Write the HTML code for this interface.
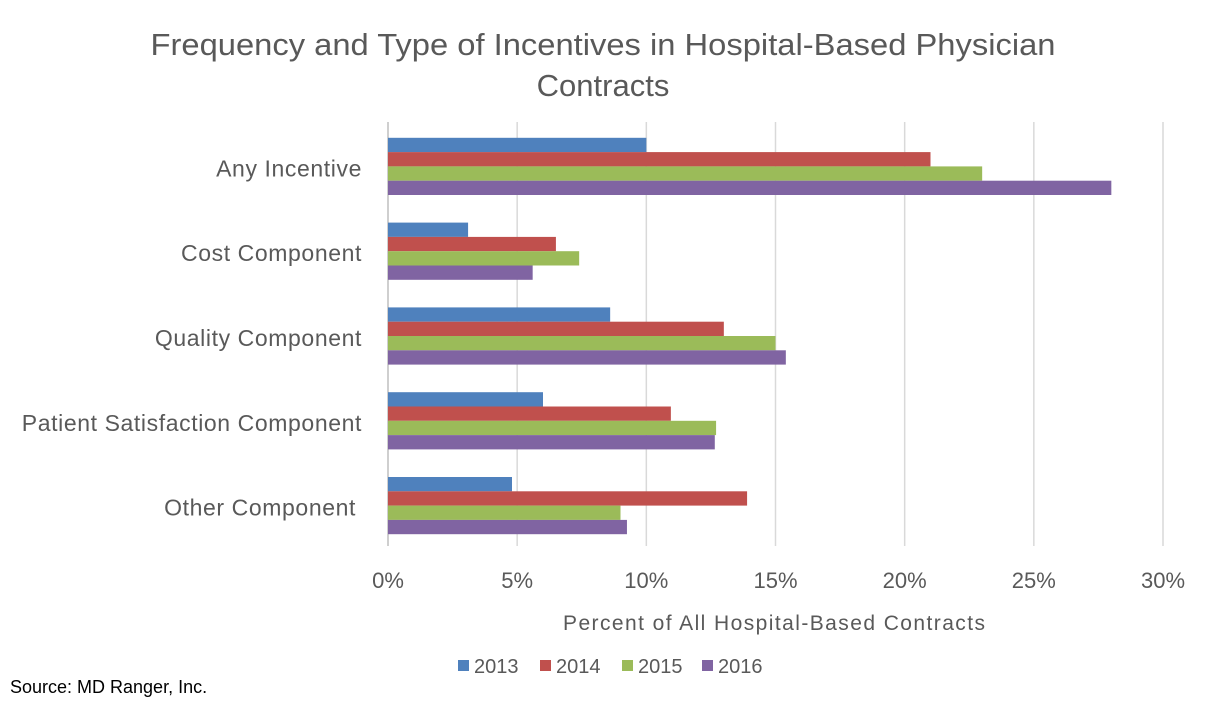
<!DOCTYPE html>
<html><head><meta charset="utf-8"><style>
body{margin:0;background:#fff;width:1215px;height:705px;overflow:hidden;font-family:"Liberation Sans",sans-serif;}
text{font-family:"Liberation Sans",sans-serif;}
</style></head><body>
<svg id="chart" width="1215" height="705" xmlns="http://www.w3.org/2000/svg">
<text x="603" y="55" text-anchor="middle" font-size="31" fill="#595959" textLength="905" lengthAdjust="spacingAndGlyphs">Frequency and Type of Incentives in Hospital-Based Physician</text>
<text x="603" y="96" text-anchor="middle" font-size="31" fill="#595959">Contracts</text>
<g id="grid"></g><g id="bars"></g><g id="labels"></g>
<text x="774" y="630" text-anchor="middle" font-size="21" fill="#595959" textLength="422" lengthAdjust="spacing">Percent of All Hospital-Based Contracts</text>
<g id="legend"></g>
<text x="10" y="693" font-size="18" fill="#000">Source: MD Ranger, Inc.</text>
</svg>
<script>
const categories=["Any Incentive","Cost Component","Quality Component","Patient Satisfaction Component","Other Component"];
const seriesNames=["2013","2014","2015","2016"];
const s2013=[10.0,3.1,8.6,6.0,4.8];
const s2014=[21.0,6.5,13.0,10.95,13.9];
const s2015=[23.0,7.4,15.0,12.7,9.0];
const s2016=[28.0,5.6,15.4,12.65,9.25];
const ticks=[0,5,10,15,20,25,30];
const colors=["#4F81BD","#C0504D","#9BBB59","#8064A2"];
const series=[s2013,s2014,s2015,s2016];
const NS="http://www.w3.org/2000/svg";
const x0=388,x1=1163,yTop=122,yBot=546;
const xs=v=>x0+(v/30)*(x1-x0);
const band=(yBot-yTop)/categories.length;
function mk(t,a,p){const e=document.createElementNS(NS,t);for(const k in a)e.setAttribute(k,a[k]);p.appendChild(e);return e;}
const grid=document.getElementById('grid'),bars=document.getElementById('bars'),labels=document.getElementById('labels'),legend=document.getElementById('legend');
ticks.forEach(t=>{
 const l=mk('line',{x1:xs(t),x2:xs(t),y1:yTop,y2:yBot,stroke:t===0?'#bfbfbf':'#d9d9d9','stroke-width':1.5},grid);
 
 
 const tx=mk('text',{x:xs(t),y:588,'text-anchor':'middle','font-size':22,fill:'#595959'},labels);
 tx.textContent=t+'%';
 
 
});
const bh=14.3;
categories.forEach((c,i)=>{
 const cy=yTop+band*i+band/2+2;
 const tx=mk('text',{x:i===4?356:362,y:cy+10,'text-anchor':'end','font-size':23,fill:'#595959','letter-spacing':'0.6'},labels);
 tx.textContent=c;
 
 
 series.forEach((s,j)=>{
  const y=cy-2*bh+j*bh;
  const r=mk('rect',{x:x0,y:y,width:xs(s[i])-x0,height:bh,fill:colors[j]},bars);
  
  
 });
});
const lx=[458,540,622,702];
seriesNames.forEach((n,j)=>{
 const r=mk('rect',{x:lx[j],y:660,width:11,height:11,fill:colors[j]},legend);
 
 
 const t=mk('text',{x:lx[j]+16,y:673,'font-size':20,fill:'#595959'},legend);
 t.textContent=n;
 
 
});
</script>
</body></html>
